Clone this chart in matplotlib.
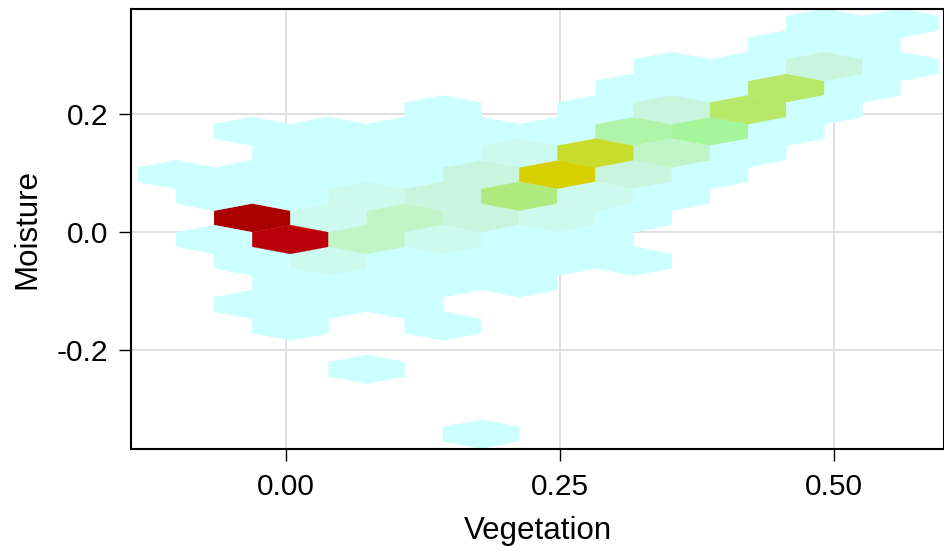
import matplotlib
matplotlib.use("Agg")
import matplotlib.pyplot as plt
import numpy as np
from matplotlib.colors import LinearSegmentedColormap

# hexagon cell centres (Vegetation, Moisture) and the count in each cell
veg = [0.492, 0.561,
       0.457, 0.527,
       0.352, 0.422, 0.492, 0.561,
       0.318, 0.387, 0.457, 0.527,
       0.143, 0.283, 0.352, 0.422, 0.492,
       -0.031, 0.039, 0.108, 0.178, 0.248, 0.318, 0.387, 0.457,
       0.004, 0.074, 0.143, 0.213, 0.283, 0.352, 0.422,
       -0.101, -0.031, 0.039, 0.108, 0.178, 0.248, 0.318, 0.387,
       -0.066, 0.004, 0.074, 0.143, 0.213, 0.283, 0.352,
       -0.031, 0.039, 0.108, 0.178, 0.248, 0.318,
       -0.066, 0.004, 0.074, 0.143, 0.213, 0.283,
       -0.031, 0.039, 0.108, 0.178, 0.248, 0.318,
       0.004, 0.074, 0.143, 0.213,
       -0.031, 0.039, 0.108,
       0.004, 0.143,
       0.074,
       0.178]
moist = [0.353, 0.353,
         0.317, 0.317,
         0.280, 0.280, 0.280, 0.280,
         0.243, 0.243, 0.243, 0.243,
         0.207, 0.207, 0.207, 0.207, 0.207,
         0.170, 0.170, 0.170, 0.170, 0.170, 0.170, 0.170, 0.170,
         0.133, 0.133, 0.133, 0.133, 0.133, 0.133, 0.133,
         0.097, 0.097, 0.097, 0.097, 0.097, 0.097, 0.097, 0.097,
         0.060, 0.060, 0.060, 0.060, 0.060, 0.060, 0.060,
         0.023, 0.023, 0.023, 0.023, 0.023, 0.023,
         -0.013, -0.013, -0.013, -0.013, -0.013, -0.013,
         -0.050, -0.050, -0.050, -0.050, -0.050, -0.050,
         -0.087, -0.087, -0.087, -0.087,
         -0.123, -0.123, -0.123,
         -0.160, -0.160,
         -0.233,
         -0.343]
counts = [1, 1,
          1, 1,
          1, 1, 3, 1,
          1, 1, 8, 1,
          1, 1, 3, 8, 1,
          1, 1, 1, 1, 1, 5, 6, 1,
          1, 1, 1, 2, 10, 4, 1,
          1, 1, 1, 1, 3, 11, 3, 1,
          1, 1, 2, 3, 7, 2, 1,
          20, 2, 4, 3, 2, 1,
          1, 19, 4, 2, 1, 1,
          1, 2, 1, 1, 1, 1,
          1, 1, 1, 1,
          1, 1, 1,
          1, 1,
          1,
          1]

xticks = [0.0, 0.25, 0.5]
xticklabels = ["0.00", "0.25", "0.50"]
yticks = [-0.2, 0.0, 0.2]
yticklabels = ["-0.2", "0.0", "0.2"]

cmap = LinearSegmentedColormap.from_list("cyan_red", [
    (0.0, "#CCFFFF"),
    (0.053, "#CCFAEE"),
    (0.105, "#C8F5DC"),
    (0.158, "#C0F5C8"),
    (0.21, "#ADF5A8"),
    (0.263, "#A5F59A"),
    (0.316, "#ADEB7E"),
    (0.368, "#B8E86A"),
    (0.474, "#C8DC2C"),
    (0.526, "#D8CF00"),
    (0.75, "#E06000"),
    (0.947, "#BB0008"),
    (1.0, "#AA0000"),
])

plt.rcParams["font.family"] = ["Liberation Sans", "DejaVu Sans"]

fig = plt.figure(figsize=(9.45, 5.48), dpi=100)
ax = fig.add_axes([0.1386, 0.1807, 0.8603, 0.8029])

ax.hexbin(veg, moist, C=counts, reduce_C_function=np.sum,
          gridsize=(13, 12), extent=(-0.2402, 0.6659, -0.4898, 0.3900),
          cmap=cmap, vmin=1, vmax=20, linewidths=0.2, edgecolors="face",
          zorder=2)

ax.set_xlim(-0.1419, 0.6009)
ax.set_ylim(-0.3683, 0.3775)
ax.set_xticks(xticks)
ax.set_xticklabels(xticklabels)
ax.set_yticks(yticks)
ax.set_yticklabels(yticklabels)

ax.grid(True, color="#DDDDDD", linewidth=1.3, zorder=0)
ax.set_axisbelow(True)
for s in ax.spines.values():
    s.set_linewidth(1.5)
    s.set_color("black")

ax.tick_params(axis="x", length=8.5, width=1.0, labelsize=21.5, pad=8.5)
ax.tick_params(axis="y", length=8.5, width=1.0, labelsize=21.5, pad=8)
ax.set_xlabel("Vegetation", fontsize=22.5, labelpad=11)
ax.set_ylabel("Moisture", fontsize=22.5, labelpad=10)

fig.savefig("out.png", dpi=100)
